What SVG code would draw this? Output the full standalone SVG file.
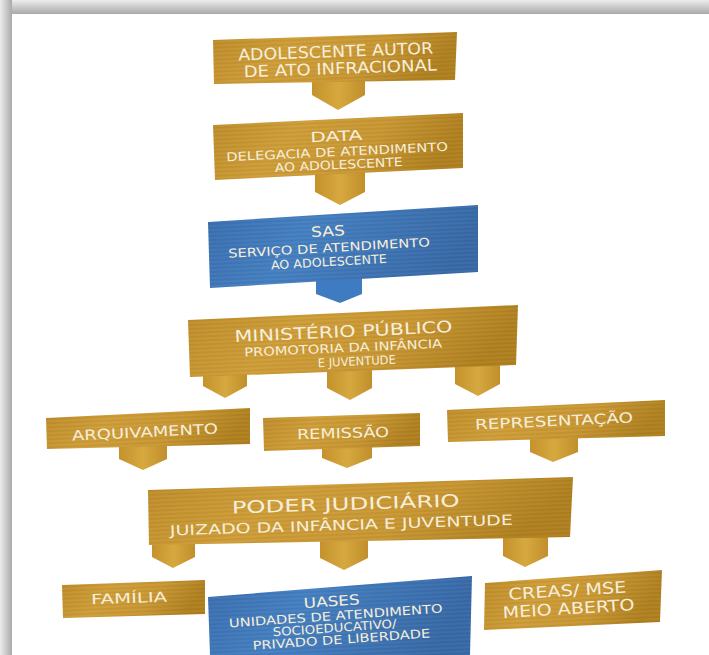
<svg xmlns="http://www.w3.org/2000/svg" width="709" height="655" viewBox="0 0 709 655">
  <defs>
    <linearGradient id="shTop" x1="0" y1="0" x2="0" y2="1">
      <stop offset="0" stop-color="#ececec"/>
      <stop offset="1" stop-color="#a9a9a9"/>
    </linearGradient>
    <linearGradient id="shLeft" x1="0" y1="0" x2="1" y2="0">
      <stop offset="0" stop-color="#ececec"/>
      <stop offset="1" stop-color="#a9a9a9"/>
    </linearGradient>
    <linearGradient id="gold" x1="0" y1="0" x2="1" y2="0.2">
      <stop offset="0" stop-color="#bf8c2a"/>
      <stop offset="0.35" stop-color="#cf9e38"/>
      <stop offset="0.7" stop-color="#c99733"/>
      <stop offset="1" stop-color="#b0811f"/>
    </linearGradient>
    <linearGradient id="goldPt" x1="0" y1="0" x2="1" y2="0">
      <stop offset="0" stop-color="#c5912c"/>
      <stop offset="0.5" stop-color="#d6a93f"/>
      <stop offset="1" stop-color="#c18e2b"/>
    </linearGradient>
    <linearGradient id="blue" x1="0" y1="0" x2="1" y2="0.2">
      <stop offset="0" stop-color="#3a6eaf"/>
      <stop offset="0.4" stop-color="#4580c2"/>
      <stop offset="1" stop-color="#386aa8"/>
    </linearGradient>
    <pattern id="grain" width="40" height="4" patternUnits="userSpaceOnUse" patternTransform="rotate(-2.5)">
      <rect width="40" height="1" y="0.5" fill="#000" opacity="0.07"/>
      <rect width="40" height="1" y="2.5" fill="#fff" opacity="0.05"/>
    </pattern>
    <style>
      .g{fill:url(#gold)}
      .b{fill:url(#blue)}
      .gr{fill:url(#grain)}
      .pg{fill:url(#goldPt)}
      .pb{fill:#3f7bc0}
      text{font-family:"DejaVu Sans","Liberation Sans",sans-serif;fill:#f6eedb;text-anchor:middle}
      .t16{font-size:16px}
      .t14{font-size:14px}
      .t12{font-size:12px}
      .t17{font-size:17px}
    </style>
  </defs>

  <rect width="709" height="655" fill="#ffffff"/>
  <rect x="0" y="0" width="709" height="14" fill="url(#shTop)"/>
  <rect x="0" y="0" width="12" height="655" fill="url(#shLeft)"/>

  <g id="connectors">
    <polygon class="pg" points="312,78 365,78 365,95 338,110 312,95"/>
    <polygon class="pg" points="315,170 365,170 365,192 340,205 315,192"/>
    <polygon class="pb" points="316,276 362,276 362,294 340,303 316,294"/>
    <polygon class="pg" points="203,370 247,370 247,386 225,398 203,386"/>
    <polygon class="pg" points="327,366 372,366 372,388 350,400 327,388"/>
    <polygon class="pg" points="455,362 500,362 500,384 478,396 455,384"/>
    <polygon class="pg" points="119,443 167,443 167,459 143,470 119,459"/>
    <polygon class="pg" points="322,445 372,445 372,458 347,468 322,458"/>
    <polygon class="pg" points="530,435 578,435 578,452 553,462 530,452"/>
    <polygon class="pg" points="152,540 195,540 195,557 173,568 152,557"/>
    <polygon class="pg" points="320,537 368,537 368,558 344,570 320,558"/>
    <polygon class="pg" points="503,533 548,533 548,556 525,567 503,556"/>
  </g>

  <g id="n-adolescente">
    <polygon class="g" points="213,40 457,32 455,80 214,84"/>
    <polygon class="gr" points="213,40 457,32 455,80 214,84"/>
    <g transform="rotate(-2 336 60)">
      <text class="t16" x="336" y="57" textLength="195" lengthAdjust="spacingAndGlyphs">ADOLESCENTE AUTOR</text>
      <text class="t16" x="340" y="74" textLength="193" lengthAdjust="spacingAndGlyphs">DE ATO INFRACIONAL</text>
    </g>
  </g>

  <g id="n-data">
    <polygon class="g" points="213,125 463,113 463,168 215,180"/>
    <polygon class="gr" points="213,125 463,113 463,168 215,180"/>
    <g transform="rotate(-2.7 337 150)">
      <text class="t14" x="337" y="141" textLength="52" lengthAdjust="spacingAndGlyphs">DATA</text>
      <text class="t12" x="337" y="156" textLength="222" lengthAdjust="spacingAndGlyphs">DELEGACIA DE ATENDIMENTO</text>
      <text class="t12" x="338" y="169" textLength="128" lengthAdjust="spacingAndGlyphs">AO ADOLESCENTE</text>
    </g>
  </g>

  <g id="n-sas">
    <polygon class="b" points="208,222 478,205 478,272 210,288"/>
    <polygon class="gr" points="208,222 478,205 478,272 210,288"/>
    <g transform="rotate(-3.3 330 248)">
      <text class="t14" x="329" y="236" textLength="34" lengthAdjust="spacingAndGlyphs">SAS</text>
      <text class="t12" x="329" y="252" textLength="202" lengthAdjust="spacingAndGlyphs">SERVIÇO DE ATENDIMENTO</text>
      <text class="t12" x="328" y="266" textLength="116" lengthAdjust="spacingAndGlyphs">AO ADOLESCENTE</text>
    </g>
  </g>

  <g id="n-ministerio">
    <polygon class="g" points="188,320 518,305 516,365 190,377"/>
    <polygon class="gr" points="188,320 518,305 516,365 190,377"/>
    <g transform="rotate(-2.6 345 345)">
      <text class="t16" x="344" y="337" textLength="218" lengthAdjust="spacingAndGlyphs">MINISTÉRIO PÚBLICO</text>
      <text class="t12" x="343" y="352" textLength="198" lengthAdjust="spacingAndGlyphs">PROMOTORIA DA INFÂNCIA</text>
      <text class="t12" x="356" y="366" textLength="78" lengthAdjust="spacingAndGlyphs">E JUVENTUDE</text>
    </g>
  </g>

  <g id="n-arquivamento">
    <polygon class="g" points="46,418 250,408 250,444 47,449"/>
    <polygon class="gr" points="46,418 250,408 250,444 47,449"/>
    <text class="t14" x="145" y="437" textLength="146" lengthAdjust="spacingAndGlyphs" transform="rotate(-2.8 145 432)">ARQUIVAMENTO</text>
  </g>

  <g id="n-remissao">
    <polygon class="g" points="263,418 420,413 420,446 264,451"/>
    <polygon class="gr" points="263,418 420,413 420,446 264,451"/>
    <text class="t14" x="343" y="438" textLength="92" lengthAdjust="spacingAndGlyphs" transform="rotate(-1.5 343 433)">REMISSÃO</text>
  </g>

  <g id="n-representacao">
    <polygon class="g" points="447,410 665,400 665,436 448,442"/>
    <polygon class="gr" points="447,410 665,400 665,436 448,442"/>
    <text class="t14" x="554" y="426" textLength="158" lengthAdjust="spacingAndGlyphs" transform="rotate(-2.6 554 421)">REPRESENTAÇÃO</text>
  </g>

  <g id="n-poder">
    <polygon class="g" points="148,490 573,477 570,537 149,545"/>
    <polygon class="gr" points="148,490 573,477 570,537 149,545"/>
    <g transform="rotate(-1.8 342 515)">
      <text class="t17" x="346" y="510" textLength="228" lengthAdjust="spacingAndGlyphs">PODER JUDICIÁRIO</text>
      <text class="t14" x="341" y="530" textLength="343" lengthAdjust="spacingAndGlyphs">JUIZADO DA INFÂNCIA E JUVENTUDE</text>
    </g>
  </g>

  <g id="n-familia">
    <polygon class="g" points="62,585 205,580 205,614 63,618"/>
    <polygon class="gr" points="62,585 205,580 205,614 63,618"/>
    <text class="t14" x="129" y="603" textLength="76" lengthAdjust="spacingAndGlyphs" transform="rotate(-2 129 598)">FAMÍLIA</text>
  </g>

  <g id="n-uases">
    <polygon class="b" points="208,597 472,576 470,655 210,655"/>
    <polygon class="gr" points="208,597 472,576 470,655 210,655"/>
    <g transform="rotate(-4 335 620)">
      <text class="t14" x="333" y="606" textLength="56" lengthAdjust="spacingAndGlyphs">UASES</text>
      <text class="t12" x="336" y="620" textLength="214" lengthAdjust="spacingAndGlyphs">UNIDADES DE ATENDIMENTO</text>
      <text class="t12" x="334" y="632" textLength="124" lengthAdjust="spacingAndGlyphs">SOCIOEDUCATIVO/</text>
      <text class="t12" x="340" y="644" textLength="178" lengthAdjust="spacingAndGlyphs">PRIVADO DE LIBERDADE</text>
    </g>
  </g>

  <g id="n-creas">
    <polygon class="g" points="485,583 662,570 660,622 484,630"/>
    <polygon class="gr" points="485,583 662,570 660,622 484,630"/>
    <g transform="rotate(-3.5 570 600)">
      <text class="t16" x="568" y="596" textLength="118" lengthAdjust="spacingAndGlyphs">CREAS/ MSE</text>
      <text class="t16" x="568" y="614" textLength="132" lengthAdjust="spacingAndGlyphs">MEIO ABERTO</text>
    </g>
  </g>
</svg>
